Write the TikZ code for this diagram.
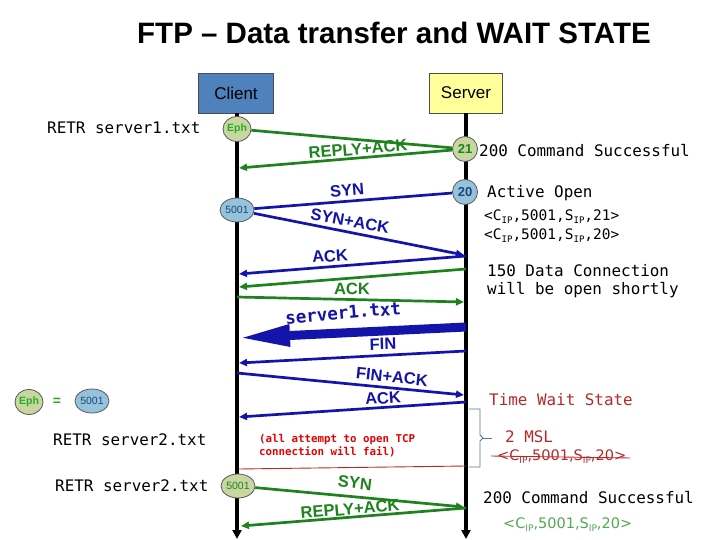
\documentclass[tikz,border=0pt]{standalone}
\usepackage{fontspec}
\setmainfont{Liberation Sans}
\newfontfamily\monof{DejaVu Sans Mono}
\newfontfamily\dejav{DejaVu Sans}
\usetikzlibrary{arrows.meta,shapes.geometric}
\definecolor{gline}{RGB}{30,130,30}
\definecolor{bline}{RGB}{20,20,170}
\definecolor{gfill}{RGB}{200,215,160}
\definecolor{bfill}{RGB}{150,195,220}
\definecolor{clientc}{RGB}{79,129,189}
\definecolor{serverc}{RGB}{255,255,153}
\definecolor{redt}{RGB}{185,40,40}
\definecolor{bracec}{RGB}{90,120,150}
\definecolor{gtext}{RGB}{40,170,40}
\definecolor{ipgreen}{RGB}{80,170,80}
\definecolor{dblue}{RGB}{30,70,120}
\newcommand\ipsub{\raisebox{-0.35ex}{\fontsize{9}{9}\selectfont IP}}
\begin{document}
\begin{tikzpicture}[x=1pt,y=-1pt,
 every node/.style={inner sep=0pt},
 lifeline/.style={line width=3.5pt, -{Triangle[length=9pt,width=9pt]}},
 garr/.style={gline, line width=2.7pt, -{Triangle[length=8pt,width=7pt]}},
 gseg/.style={gline, line width=2.7pt},
 barr/.style={bline, line width=2.7pt, -{Triangle[length=8pt,width=7pt]}},
 bseg/.style={bline, line width=2.7pt},
 gnode/.style={ellipse, draw=black!65, fill=gfill, minimum width=25pt, minimum height=25pt, line width=0.8pt},
 bnode/.style={ellipse, draw=black!65, fill=bfill, minimum width=25pt, minimum height=25pt, line width=0.8pt},
 widen/.style={minimum width=34pt, minimum height=24pt},
 glab/.style={text=gline, font=\fontsize{16.5}{16.5}\selectfont\bfseries},
 blab/.style={text=bline, font=\fontsize{16.5}{16.5}\selectfont\bfseries},
 mono/.style={font=\monof\fontsize{15.9}{16}\selectfont, anchor=west},
 monos/.style={font=\monof\fontsize{14.5}{15}\selectfont, anchor=west},
 boxst/.style={draw=black!70, line width=0.8pt, minimum width=75pt, minimum height=40pt, font=\fontsize{17}{17}\selectfont},
]
\useasboundingbox (0,0) rectangle (720,540);
\fill[white] (0,0) rectangle (720,540);

% title
\node (title) at (394,33) {\fontsize{29.5}{29.5}\selectfont\bfseries FTP -- Data transfer and WAIT STATE};

% actors
\node[boxst, fill=clientc] (client) at (236,93) {Client};
\node[boxst, fill=serverc, minimum width=73pt] (server) at (466,93) {Server};

% lifeline ends
\coordinate (cend) at (237,539);
\coordinate (send) at (466,539);
\draw[lifeline] (client.south -| cend) -- (cend);
\draw[lifeline] (server.south -| send) -- (send);

% port nodes
\node[gnode, font=\fontsize{10.5}{10.5}\selectfont\bfseries, text=gtext] (eph1) at (237,129) {Eph};
\node[gnode, font=\fontsize{13}{13}\selectfont\bfseries, text=gline] (p21) at (465,149) {21};
\node[bnode, font=\fontsize{13}{13}\selectfont\bfseries, text=dblue] (p20) at (465,192) {20};
\node[bnode, widen, font=\fontsize{10.5}{10.5}\selectfont, text=dblue] (n5001) at (237,210) {5001};
\node[gnode, widen, font=\fontsize{10.5}{10.5}\selectfont, text=gline] (g5001) at (238,486) {5001};

% lifeline points
\coordinate (c1) at (239,168);
\coordinate (s1) at (464,255);
\coordinate (s2) at (466,256);
\coordinate (c2) at (239,274);
\coordinate (s3) at (466,269);
\coordinate (c3) at (239,287);
\coordinate (c4) at (237,297);
\coordinate (s4) at (464,302);
\coordinate (s5) at (466,327);
\coordinate (c5) at (238,338);
\coordinate (s6) at (466,351);
\coordinate (c6) at (239,363);
\coordinate (c7) at (237,373);
\coordinate (s7) at (464,395);
\coordinate (s8) at (466,402);
\coordinate (c8) at (239,417);
\coordinate (c9) at (239,469);
\coordinate (s9) at (466,466);
\coordinate (s10) at (464,507);
\coordinate (s11) at (466,508);
\coordinate (c11) at (241,526);

% connectors
\draw[gseg] (eph1) -- (p21);
\draw[garr] (p21) -- (c1);
\draw[bseg] (p20) -- (n5001);
\draw[barr] (n5001) -- (s1);
\draw[barr] (s2) -- (c2);
\draw[garr] (s3) -- (c3);
\draw[garr] (c4) -- (s4);
\draw[bline, line width=9pt, -{Triangle[length=52pt,width=20pt]}] (s5) -- (c5);
\draw[barr] (s6) -- (c6);
\draw[barr] (c7) -- (s7);
\draw[barr] (s8) -- (c8);
\draw[redt, line width=0.9pt] (c9) -- (s9);
\draw[garr] (g5001) -- (s10);
\draw[garr] (s11) -- (c11);

% connector labels
\node[glab, rotate=5] (l1) at (358,149) {REPLY+ACK};
\node[blab, rotate=5] (l2) at (347,190) {SYN};
\node[blab, rotate=-10] (l3) at (350,221) {SYN+ACK};
\node[blab, rotate=4] (l4) at (330,256) {ACK};
\node[glab, rotate=-1] (l5) at (352,289) {ACK};
\node[text=bline, rotate=5, font=\monof\fontsize{17.5}{17.5}\selectfont\bfseries] (l6) at (343,313) {server1.txt};
\node[blab, rotate=2] (l7) at (383,344) {FIN};
\node[blab, rotate=-6] (l8) at (392,377) {FIN+ACK};
\node[blab, rotate=4] (l9) at (383,398) {ACK};
\node[glab, rotate=-7] (l10) at (355,483) {SYN};
\node[glab, rotate=5] (l11) at (350,509) {REPLY+ACK};

% left texts
\node[mono] (retr1) at (47,128) {RETR server1.txt};
\node[gnode, font=\fontsize{10.5}{10.5}\selectfont\bfseries, text=gtext] (eph2) at (29,402) {Eph};
\node[text=gtext, font=\fontsize{14}{14}\selectfont\bfseries] (eq) at (57,402) {=};
\node[bnode, widen, font=\fontsize{10.5}{10.5}\selectfont, text=dblue] (n5001b) at (92,401) {5001};
\node[mono] (retr2) at (53,440) {RETR server2.txt};
\node[mono] (retr3) at (55,486) {RETR server2.txt};
\node[anchor=north west, align=left, text=red!90!black, font=\monof\fontsize{10.8}{13}\selectfont\bfseries] (fail) at (259,434) {(all attempt to open TCP\\connection will fail)};

% right texts
\node[mono] (cmd1) at (479,151) {200 Command Successful};
\node[mono] (aopen) at (487,193) {Active Open};
\node[monos] (tup1) at (484,217) {<C\ipsub,5001,S\ipsub,21>};
\node[monos] (tup2) at (484,236) {<C\ipsub,5001,S\ipsub,20>};
\node[mono] (d150a) at (487,271) {150 Data Connection};
\node[mono] (d150b) at (487,290) {will be open shortly};
\node[mono, text=redt] (tws) at (489,400) {Time Wait State};
\node[mono, text=redt] (msl) at (505,437) {2 MSL};
\node[anchor=west, text=redt, font=\dejav\fontsize{14.5}{15}\selectfont] (tup3) at (497,457) {<C\ipsub,5001,S\ipsub,20>};
\draw[redt, line width=0.9pt] (tup3.west) ++(-6,-1) coordinate (strk1) -- ([xshift=4pt,yshift=-1pt]tup3.east) coordinate (strk2);
\node[mono] (cmd2) at (483,498) {200 Command Successful};
\node[anchor=west, text=ipgreen, font=\dejav\fontsize{14.5}{15}\selectfont] (tup4) at (503,525) {<C\ipsub,5001,S\ipsub,20>};

% brace
\draw[bracec, line width=0.9pt] (469,409) -- (480,409) -- (480,435) -- (483,438) -- (480,441) -- (480,467) -- (469,467);
\draw[bracec, line width=0.9pt] (483,438) -- (492,438);
\end{tikzpicture}
\end{document}
